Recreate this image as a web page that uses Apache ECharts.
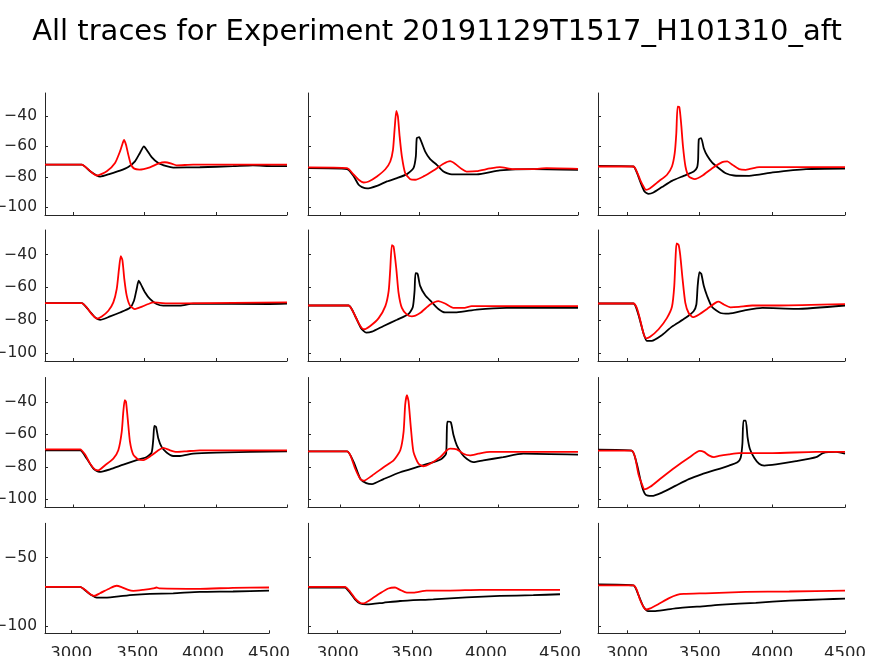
<!DOCTYPE html>
<html><head><meta charset="utf-8">
<script src="https://cdn.jsdelivr.net/npm/echarts@6/dist/echarts.min.js"></script>
<style>html,body{margin:0;padding:0;background:#fff}#c{width:874px;height:656px}</style>
</head><body><div id="c"></div>
<script>
const titleText = 'All traces for Experiment 20191129T1517_H101310_aft';
const xTicks = [3000, 3500, 4000, 4500];
const yTicksMain = [-100, -80, -60, -40];
const yTicksLast = [-100, -50];

// [time, voltage] pairs; black = trace 1, red = trace 2
const r1c1Black = [[2800,-72],[3058,-72],[3117,-76.3],[3164,-79.1],[3187,-79.8],[3257,-78],[3327,-75.9],[3385,-73.5],[3432,-69.8],[3467,-64.3],[3495,-60],[3514,-62.2],[3549,-67],[3596,-70.9],[3654,-73],[3701,-73.9],[3888,-73.7],[4121,-73],[4261,-72.4],[4402,-73],[4500,-73]];
const r1c1Red = [[2800,-72],[3058,-72],[3105,-75.2],[3140,-78],[3164,-79.1],[3234,-76.3],[3292,-70.9],[3327,-63.3],[3346,-57.8],[3355,-55.7],[3369,-58.9],[3385,-65.4],[3404,-72],[3427,-74.6],[3463,-75.2],[3537,-73.7],[3596,-71.3],[3642,-70.4],[3689,-71.3],[3724,-72.4],[3841,-72],[4500,-72]];

const r1c2Black = [[2800,-74.3],[3046,-74.9],[3088,-79.7],[3119,-85.2],[3140,-86.7],[3172,-87.6],[3234,-85.9],[3297,-83],[3360,-80.8],[3423,-78.2],[3464,-74.3],[3479,-66.6],[3485,-54.6],[3500,-54],[3517,-57.9],[3538,-63.4],[3569,-68.4],[3611,-72.1],[3653,-76.5],[3705,-78.4],[3862,-78.4],[4008,-75.8],[4217,-74.9],[4500,-75.4]];
const r1c2Red = [[2800,-73.8],[3046,-74.3],[3088,-78.6],[3119,-81.9],[3151,-83.7],[3182,-83],[3234,-79.7],[3287,-75],[3318,-69.9],[3335,-62.3],[3345,-49.2],[3356,-36.7],[3366,-40.4],[3377,-53.5],[3391,-66.6],[3412,-77.6],[3444,-81.5],[3475,-81.9],[3527,-79.7],[3590,-75.8],[3653,-71.4],[3695,-69.7],[3726,-71.4],[3768,-74.9],[3799,-76.5],[3862,-76.2],[3946,-74.5],[4008,-73.6],[4092,-74.9],[4217,-74.9],[4301,-74.3],[4500,-74.7]];

const r1c3Black = [[2800,-72.8],[3044,-73.2],[3067,-77.1],[3090,-83],[3120,-89.6],[3148,-91.1],[3182,-90.2],[3240,-86.7],[3309,-82.6],[3390,-79.3],[3459,-76.5],[3482,-73.8],[3489,-68.8],[3494,-55.3],[3510,-54.6],[3528,-61.2],[3552,-66.2],[3586,-70.6],[3632,-74.3],[3679,-77.6],[3736,-79.1],[3840,-79.3],[4002,-77.1],[4232,-74.9],[4500,-74.5]];
const r1c3Red = [[2800,-73.2],[3044,-73.2],[3067,-76.5],[3090,-81.9],[3113,-86.3],[3129,-88.5],[3159,-87.4],[3217,-83],[3275,-78.6],[3309,-73.2],[3328,-64.5],[3339,-51.4],[3348,-33.9],[3360,-34.3],[3372,-44.8],[3385,-60.1],[3402,-73.2],[3425,-79.7],[3466,-81.5],[3517,-79.3],[3586,-74.3],[3655,-70.3],[3690,-69.9],[3725,-72.1],[3771,-74.9],[3817,-75.4],[3909,-73.6],[4025,-73.6],[4232,-73.6],[4500,-73.6]];

const r2c1Black = [[2800,-69.6],[3058,-69.6],[3105,-73.7],[3152,-78.4],[3187,-79.9],[3257,-77.8],[3327,-75.4],[3397,-72.5],[3425,-68.2],[3444,-61],[3458,-56],[3472,-57.9],[3502,-63],[3537,-67.1],[3584,-70.2],[3631,-71.2],[3748,-71.2],[3841,-70],[4378,-70.2],[4500,-70]];
const r2c1Red = [[2800,-69.6],[3058,-69.6],[3093,-72.3],[3128,-76.4],[3164,-79.1],[3199,-77.8],[3245,-74.3],[3280,-69.2],[3304,-61],[3320,-48.6],[3332,-41],[3344,-43.5],[3357,-54.8],[3374,-65.1],[3397,-71.2],[3432,-73.3],[3467,-72.3],[3526,-70.2],[3561,-69.2],[3654,-69.8],[3771,-69.8],[4500,-69.2]];

const r2c2Black = [[2800,-71.1],[3056,-71.1],[3098,-77.8],[3134,-85],[3167,-87.7],[3203,-87.1],[3276,-83.6],[3360,-79.8],[3433,-76.3],[3460,-72],[3471,-62.2],[3477,-51.4],[3490,-51.8],[3506,-59.1],[3538,-64.9],[3579,-69],[3621,-73.2],[3663,-75.3],[3736,-75.3],[3862,-73.6],[4050,-72.6],[4500,-72.6]];
const r2c2Red = [[2800,-71.1],[3056,-71.1],[3088,-75.7],[3119,-81.9],[3140,-85],[3155,-85.6],[3192,-83.6],[3245,-78.8],[3287,-71.5],[3308,-62.2],[3318,-48.7],[3328,-34.2],[3339,-35.2],[3356,-48.7],[3370,-63.2],[3391,-72.6],[3423,-76.7],[3454,-77.8],[3506,-75.7],[3569,-70.5],[3621,-68.4],[3663,-69.9],[3715,-72.6],[3778,-72.6],[3831,-71.5],[4155,-71.5],[4500,-71.5]];

const r2c3Black = [[2800,-69.9],[3044,-69.9],[3078,-76.7],[3113,-88.1],[3136,-92.7],[3170,-92.7],[3240,-89.2],[3309,-84],[3401,-78.8],[3458,-74.6],[3477,-70.5],[3486,-59.1],[3498,-50.8],[3511,-51.8],[3528,-59.1],[3551,-65.3],[3585,-72],[3643,-75.7],[3700,-76.1],[3816,-74],[3931,-72.6],[4161,-73.2],[4500,-71.1]];
const r2c3Red = [[2800,-69.9],[3044,-69.9],[3067,-72.6],[3090,-79.8],[3113,-88.1],[3131,-91.2],[3159,-90.2],[3217,-85.6],[3274,-78.8],[3309,-71.9],[3325,-59.1],[3334,-41.5],[3341,-33.2],[3355,-34.2],[3366,-40.4],[3382,-54.9],[3401,-69.5],[3424,-75.7],[3452,-78.2],[3493,-76.7],[3551,-73.2],[3608,-69.5],[3631,-68.8],[3666,-70.5],[3712,-72.2],[3770,-71.9],[3862,-71.1],[4046,-71.1],[4500,-70.3]];

const r3c1Black = [[2800,-69.8],[3047,-69.8],[3093,-74.9],[3140,-81.1],[3182,-83.1],[3257,-81.5],[3350,-78.6],[3444,-75.9],[3514,-73.9],[3549,-71.2],[3561,-62.6],[3568,-54.8],[3580,-55.4],[3596,-62.6],[3619,-67.7],[3654,-71.2],[3701,-73.3],[3748,-73.3],[3841,-71.8],[4004,-71.2],[4500,-70.4]];
const r3c1Red = [[2800,-69.2],[3047,-69.2],[3082,-72.4],[3117,-78],[3152,-81.7],[3175,-82.1],[3222,-79],[3280,-74.9],[3315,-69.8],[3339,-58.5],[3350,-46.2],[3360,-39],[3369,-40],[3381,-50.3],[3397,-64.6],[3420,-72.4],[3456,-75.5],[3491,-75.9],[3549,-72.9],[3596,-69.8],[3631,-68.3],[3678,-69.8],[3724,-70.8],[3794,-70.4],[3888,-69.8],[4500,-69.8]];

const r3c2Black = [[2800,-70.4],[3046,-70.4],[3088,-77.1],[3130,-87.5],[3167,-90],[3203,-90.6],[3276,-87.5],[3381,-83.3],[3485,-80.2],[3590,-77.1],[3642,-75],[3669,-71.9],[3674,-58.3],[3678,-52.1],[3699,-52.5],[3716,-60.4],[3737,-66.7],[3768,-71.9],[3799,-75],[3841,-77.1],[3904,-76],[4029,-74],[4155,-71.9],[4500,-72.5]];
const r3c2Red = [[2800,-70.4],[3046,-70.4],[3067,-72.9],[3098,-81.3],[3130,-87.5],[3151,-88.5],[3203,-85.4],[3276,-80.2],[3339,-76],[3381,-69.8],[3402,-58.3],[3412,-41.7],[3423,-35.8],[3433,-39.6],[3448,-56.3],[3464,-70.8],[3496,-78.1],[3527,-79.6],[3569,-78.1],[3632,-74],[3674,-69.8],[3695,-68.8],[3737,-69.2],[3778,-71.9],[3820,-72.9],[3872,-71.9],[3946,-70.8],[4500,-70.8]];

const r3c3Black = [[2800,-69.4],[3032,-70],[3067,-78.1],[3102,-91.7],[3129,-97.3],[3171,-97.9],[3240,-95.8],[3332,-91.7],[3425,-87.5],[3517,-84.4],[3609,-81.9],[3702,-79.2],[3760,-77.1],[3782,-74.4],[3794,-65.6],[3801,-51.5],[3817,-51.5],[3829,-61.5],[3845,-68.8],[3875,-74.4],[3909,-78.1],[3944,-79.2],[4025,-78.5],[4163,-76.5],[4302,-74],[4348,-71.5],[4440,-70.8],[4500,-71.9]];
const r3c3Red = [[2800,-70],[3032,-70],[3055,-74],[3078,-84.4],[3102,-90.6],[3120,-93.8],[3159,-92.3],[3240,-86.5],[3332,-80.2],[3425,-74.4],[3501,-70.2],[3529,-70.8],[3563,-72.9],[3598,-74],[3632,-73.3],[3702,-72.3],[3771,-71.5],[4002,-71.5],[4302,-70.8],[4500,-70.8]];

const r4c1Black = [[2800,-71.2],[3066,-71.2],[3116,-74.6],[3154,-77.3],[3192,-79.1],[3242,-79.1],[3343,-78.3],[3470,-77.1],[3596,-76.4],[3773,-75.9],[3975,-74.9],[4227,-74.6],[4500,-73.9]];
const r4c1Red = [[2800,-71.2],[3066,-71.2],[3104,-73.4],[3141,-76.4],[3172,-77.8],[3217,-75.9],[3293,-72.2],[3343,-70.4],[3381,-71.4],[3432,-73.4],[3470,-74.1],[3545,-73.4],[3621,-72.4],[3646,-71.7],[3672,-72.4],[3975,-72.7],[4227,-71.9],[4500,-71.7]];

const r4c2Black = [[2800,-71.7],[3049,-71.7],[3083,-75.4],[3117,-80.3],[3151,-83.3],[3196,-84],[3308,-82.8],[3421,-81.5],[3645,-80.3],[3870,-78.8],[4095,-77.8],[4320,-77.3],[4500,-76.6]];
const r4c2Red = [[2800,-71.2],[3049,-71.2],[3083,-74.6],[3117,-79.6],[3151,-82.8],[3173,-83.3],[3218,-80.8],[3286,-75.9],[3342,-72.4],[3387,-71.7],[3421,-73.4],[3466,-75.4],[3511,-75.4],[3600,-73.9],[3758,-73.9],[3960,-73.4],[4500,-73.4]];

const r4c3Black = [[2800,-69.5],[3044,-70.2],[3078,-77.1],[3113,-85.7],[3143,-88.9],[3194,-88.9],[3332,-86.9],[3540,-85.2],[3655,-84.2],[3886,-82.8],[4117,-81.3],[4348,-80.3],[4500,-79.8]];
const r4c3Red = [[2800,-70.2],[3044,-70.2],[3067,-73.4],[3090,-80.8],[3113,-85.7],[3129,-87.7],[3159,-86.9],[3217,-83.7],[3286,-79.6],[3344,-77.1],[3390,-76.4],[3540,-75.9],[3817,-74.9],[4117,-74.6],[4500,-73.9]];

const panelData = [
  [r1c1Black, r1c1Red], [r1c2Black, r1c2Red], [r1c3Black, r1c3Red],
  [r2c1Black, r2c1Red], [r2c2Black, r2c2Red], [r2c3Black, r2c3Red],
  [r3c1Black, r3c1Red], [r3c2Black, r3c2Red], [r3c3Black, r3c3Red],
  [r4c1Black, r4c1Red], [r4c2Black, r4c2Red], [r4c3Black, r4c3Red]
];

// layout (pixels)
const rowBoxes = [[93, 122], [230, 131], [377.5, 130], [523.3, 110]];
const colBoxesMain = [[45, 242], [308, 270], [598, 247]];
const colBoxesLast = [[45, 224], [308, 252], [598, 247]];

const axisColor = '#262626';
const font = 'DejaVu Sans';
const fmtNum = v => (v < 0 ? '\u2212' + Math.abs(v) : String(v));
const grids = [], xAxes = [], yAxes = [], series = [];
for (let r = 0; r < 4; r++) {
  for (let c = 0; c < 3; c++) {
    const i = r * 3 + c;
    const cb = (r === 3 ? colBoxesLast : colBoxesMain)[c];
    grids.push({ left: cb[0], width: cb[1], top: rowBoxes[r][0], height: rowBoxes[r][1],
      containLabel: false, outerBoundsMode: 'none' });
    xAxes.push({
      type: 'value', gridIndex: i, min: 2800, max: 4500,
      axisLine: { show: true, onZero: false, lineStyle: { color: axisColor, width: 1 } },
      axisTick: { show: true, inside: true, length: 3, customValues: xTicks, lineStyle: { color: axisColor } },
      axisLabel: { show: r === 3, customValues: xTicks, color: axisColor, fontSize: 16.5, fontFamily: font, margin: 12,
        formatter: fmtNum },
      splitLine: { show: false }
    });
    const yt = r === 3 ? yTicksLast : yTicksMain;
    yAxes.push({
      type: 'value', gridIndex: i, min: -105, max: -25,
      axisLine: { show: true, onZero: false, lineStyle: { color: axisColor, width: 1 } },
      axisTick: { show: true, inside: true, length: 3, customValues: yt, lineStyle: { color: axisColor } },
      axisLabel: { show: c === 0, customValues: yt, color: axisColor, fontSize: 15.5, fontFamily: font, margin: 8,
        formatter: fmtNum },
      splitLine: { show: false }
    });
    const cols = ['#000000', '#ff0000'];
    panelData[i].forEach((d, k) => {
      series.push({
        type: 'line', xAxisIndex: i, yAxisIndex: i, data: d,
        showSymbol: false, symbol: 'none', smooth: 0.2,
        lineStyle: { color: cols[k], width: 1.8 }, z: 2 + k
      });
    });
  }
}

const chart = echarts.init(document.getElementById('c'), null, { renderer: 'canvas' });
chart.setOption({
  animation: false,
  backgroundColor: '#ffffff',
  title: { text: titleText, left: 'center', top: 13,
    textStyle: { fontFamily: font, fontSize: 29, fontWeight: 'normal', color: '#000' } },
  grid: grids, xAxis: xAxes, yAxis: yAxes, series: series
});
</script></body></html>
